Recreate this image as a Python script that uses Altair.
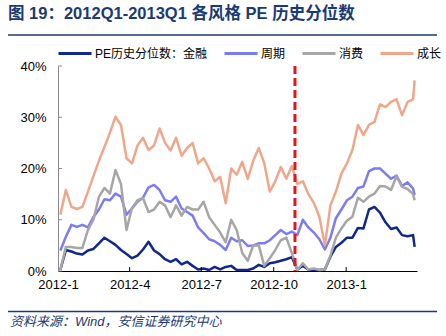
import altair as alt
import pandas as pd

# ---------------- data ----------------
dates = ["2012-01-04", "2012-01-11", "2012-01-18", "2012-01-25", "2012-02-01", "2012-02-08",
         "2012-02-15", "2012-02-22", "2012-02-29", "2012-03-07", "2012-03-14", "2012-03-21",
         "2012-03-28", "2012-04-04", "2012-04-11", "2012-04-18", "2012-04-25", "2012-05-02",
         "2012-05-09", "2012-05-16", "2012-05-23", "2012-05-30", "2012-06-06", "2012-06-13",
         "2012-06-20", "2012-06-27", "2012-07-04", "2012-07-11", "2012-07-18", "2012-07-25",
         "2012-08-01", "2012-08-08", "2012-08-15", "2012-08-22", "2012-08-29", "2012-09-05",
         "2012-09-12", "2012-09-19", "2012-09-26", "2012-10-03", "2012-10-10", "2012-10-17",
         "2012-10-24", "2012-10-31", "2012-11-07", "2012-11-14", "2012-11-21", "2012-11-28",
         "2012-12-05", "2012-12-12", "2012-12-19", "2012-12-26", "2013-01-02", "2013-01-09",
         "2013-01-16", "2013-01-23", "2013-01-30", "2013-02-06", "2013-02-13", "2013-02-20",
         "2013-02-27", "2013-03-06", "2013-03-13", "2013-03-20", "2013-03-27", "2013-03-29"]

finance = [0.2, 4.1, 3.8, 3.4, 3.2, 4.0, 4.3, 5.4, 6.5, 5.8, 5.1, 4.1, 3.3, 2.5, 3.0, 4.2, 5.7,
           4.0, 3.3, 2.3, 1.8, 2.3, 1.3, 1.8, 1.0, 0.3, 0.5, 0.2, 0.8, 0.3, 0.8, 1.0, 0.2, 0.2,
           0.2, 0.5, 1.2, 0.8, 1.5, 1.7, 2.0, 2.3, 2.7, 0.3, 1.0, 0.3, 0.2, 0.2, 0.3, 2.8, 4.7,
           5.5, 6.5, 6.5, 8.4, 8.3, 12.0, 12.5, 11.4, 9.5, 8.2, 8.5, 7.0, 6.8, 7.0, 4.7]

cyclical = [4.0, 6.7, 9.0, 8.6, 9.0, 8.5, 10.5, 12.0, 14.0, 13.8, 15.1, 14.5, 11.0, 12.2, 13.5,
            14.3, 16.3, 16.8, 15.8, 13.8, 13.5, 14.5, 12.2, 11.5, 10.8, 8.5, 7.4, 6.2, 5.8, 5.1,
            4.1, 6.5, 5.8, 6.0, 4.9, 5.0, 5.4, 5.4, 6.0, 7.0, 8.0, 7.2, 7.7, 7.0, 10.0, 8.5, 7.5,
            6.2, 4.2, 6.5, 10.3, 12.0, 13.8, 14.5, 16.2, 16.5, 19.5, 20.0, 20.0, 19.0, 18.0, 18.6,
            16.6, 17.3, 16.1, 14.8]

consumer = [0.2, 4.7, 4.7, 4.5, 4.5, 8.0, 10.0, 14.5, 16.2, 15.1, 19.7, 17.0, 8.0, 12.3, 13.8,
            14.2, 11.5, 12.0, 13.5, 12.8, 10.5, 12.8, 10.8, 12.5, 12.0, 12.0, 13.5, 10.5, 9.0,
            7.5, 5.6, 10.0, 8.0, 3.5, 2.0, 5.0, 5.0, 1.0, 2.5, 4.1, 6.0, 6.5, 3.5, 0.2, 1.5, 0.3,
            0.5, 0.2, 0.3, 3.0, 6.5, 8.3, 9.8, 10.6, 14.3, 13.5, 14.5, 15.1, 16.6, 16.5, 15.8,
            18.5, 16.4, 16.0, 15.0, 13.8]

growth = [11.0, 15.8, 12.5, 12.1, 12.5, 15.5, 18.5, 21.5, 24.2, 27.0, 30.1, 28.5, 22.0, 21.0,
          24.5, 26.0, 23.6, 24.5, 27.8, 25.0, 23.5, 26.0, 22.5, 24.0, 25.0, 21.0, 22.0, 20.0,
          17.5, 18.4, 13.2, 20.0, 18.8, 21.3, 18.0, 21.5, 24.0, 21.0, 15.5, 17.5, 20.3, 18.0,
          20.5, 17.0, 17.5, 15.0, 13.3, 10.6, 5.0, 12.8, 15.5, 19.0, 21.0, 23.6, 28.5, 26.5,
          28.5, 29.1, 32.5, 32.0, 33.0, 33.5, 30.4, 33.0, 33.5, 37.2]

series_names = ["PE历史分位数：金融", "周期", "消费", "成长"]
series_colors = ["#10288A", "#7C7CF2", "#A6A6A6", "#EEA78A"]
y_ticks = [0, 10, 20, 30, 40]
x_tick_dates = ["2012-04-01", "2012-07-01", "2012-10-01", "2013-01-01"]
marker_date = ["2012-10-28"]

title_text = "图 19：2012Q1-2013Q1 各风格 PE 历史分位数"
source_text = "资料来源：Wind，安信证券研究中心"

rows = []
for name, vals in zip(series_names, [finance, cyclical, consumer, growth]):
    for d, v in zip(dates, vals):
        rows.append({"date": d, "series": name, "value": v})
df = pd.DataFrame(rows)

# ---------------- layout ----------------
W, H = 359, 205
FONT = "Liberation Sans, Arial, Noto Sans CJK SC"
NAVY = "#1B3A73"

x_scale = alt.Scale(
    type="utc",
    domain=[alt.DateTime(year=2012, month=1, date=1, utc=True),
            alt.DateTime(year=2013, month=4, date=1, utc=True)],
)
x_axis_values = [alt.DateTime(year=y, month=m, date=1, utc=True)
                 for (y, m) in [(2012, 1), (2012, 4), (2012, 7), (2012, 10), (2013, 1)]]

x_axis = alt.Axis(values=x_axis_values, format="%Y-%-m", labelFontSize=13,
                  labelFont=FONT, labelColor="#000", labelPadding=7, ticks=False,
                  domainColor="#000", domainWidth=1, grid=False, labelFlush=False,
                  labelOverlap=False, title=None)
y_axis = alt.Axis(values=y_ticks, labelExpr="datum.value + '%'", ticks=False,
                  labelPadding=12, domainColor="#8A8A8A", domainWidth=1, grid=False,
                  labelFontSize=13, labelFont=FONT, labelColor="#000", title=None)

lines = alt.Chart(df).mark_line(strokeWidth=2.5, strokeJoin="round").encode(
    x=alt.X("date:T", scale=x_scale, title=None, axis=x_axis),
    y=alt.Y("value:Q", scale=alt.Scale(domain=[0, 40], nice=False), title=None, axis=y_axis),
    color=alt.Color("series:N", sort=series_names,
                    scale=alt.Scale(domain=series_names, range=series_colors),
                    legend=alt.Legend(orient="none", legendX=-1, legendY=-30.5,
                                      direction="horizontal", title=None, symbolType="stroke",
                                      symbolSize=1089, symbolStrokeWidth=3, labelFontSize=12,
                                      labelFont=FONT, labelColor="#000", labelOffset=2,
                                      columnPadding=10, padding=0, labelLimit=300)),
)

yticks = alt.Chart(pd.DataFrame({"v": y_ticks})).mark_rule(color="#8A8A8A", strokeWidth=1).encode(
    y=alt.Y("v:Q", title=None, axis=y_axis), x=alt.value(0), x2=alt.value(4))

xticks = alt.Chart(pd.DataFrame({"d": x_tick_dates})).mark_rule(color="#000", strokeWidth=1).encode(
    x=alt.X("d:T", title=None, axis=x_axis), y=alt.value(H), y2=alt.value(H - 4))

marker = alt.Chart(pd.DataFrame({"d": marker_date})).mark_rule(
    color="#E8141C", strokeWidth=3, strokeDash=[8, 4]).encode(
    x=alt.X("d:T", title=None, axis=x_axis), y=alt.value(0), y2=alt.value(H))

title = alt.Chart(pd.DataFrame({"t": [title_text]})).mark_text(
    align="left", baseline="alphabetic", font=FONT, fontSize=16.5, fontWeight="bold",
    color=NAVY).encode(text="t:N", x=alt.value(-50), y=alt.value(-47))

top_line = alt.Chart(pd.DataFrame({"a": [0]})).mark_rule(color=NAVY, strokeWidth=1.5).encode(
    x=alt.value(-50), x2=alt.value(379), y=alt.value(-31))

bottom_line = alt.Chart(pd.DataFrame({"a": [0]})).mark_rule(color=NAVY, strokeWidth=1.5).encode(
    x=alt.value(-50), x2=alt.value(379), y=alt.value(245.5))

source = alt.Chart(pd.DataFrame({"t": [source_text]})).mark_text(
    align="left", baseline="alphabetic", font=FONT, fontSize=13, fontStyle="italic",
    color=NAVY).encode(text="t:N", x=alt.value(-48), y=alt.value(260))

chart = alt.layer(lines, yticks, xticks, marker, title, top_line, bottom_line, source).properties(
    width=W, height=H,
    padding={"left": 58, "top": 66, "right": 29, "bottom": 65},
    autosize=alt.AutoSizeParams(type="none"),
    background="white",
).configure_view(stroke=None)

chart.save("out.html", embed_options={"renderer": "svg", "actions": False})
